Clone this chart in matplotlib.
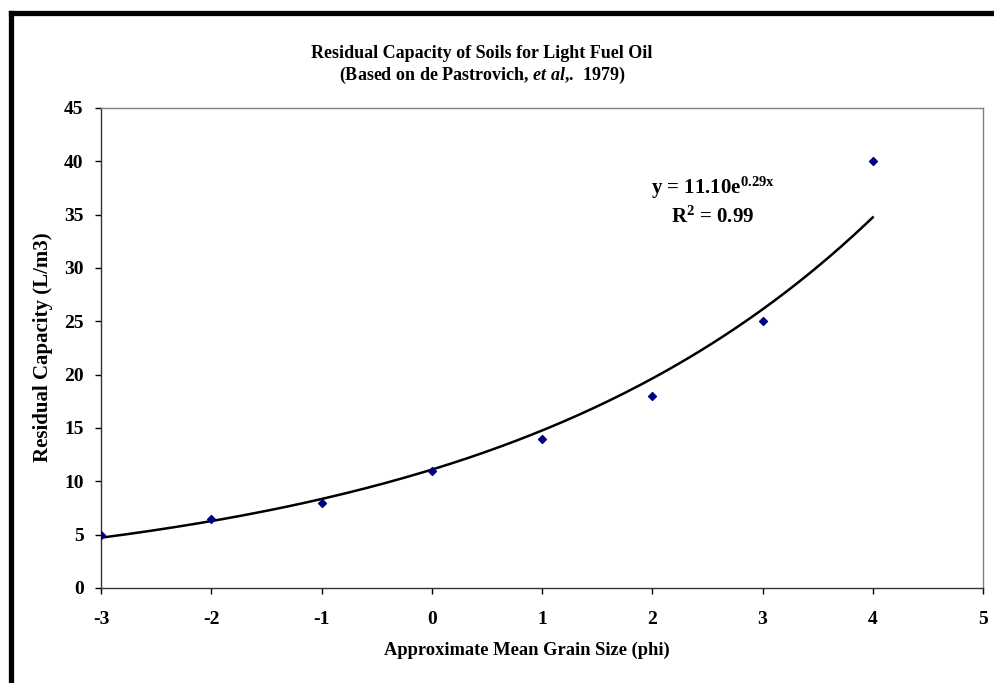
import numpy as np
import matplotlib
matplotlib.use("Agg")
import matplotlib.pyplot as plt
from matplotlib.lines import Line2D

plt.rcParams['font.family'] = ['Liberation Serif', 'DejaVu Serif']
plt.rcParams['font.weight'] = 'bold'
plt.rcParams['axes.unicode_minus'] = False
plt.rcParams['mathtext.fontset'] = 'custom'
plt.rcParams['mathtext.rm'] = 'Liberation Serif:bold'
plt.rcParams['mathtext.it'] = 'Liberation Serif:italic:bold'
plt.rcParams['mathtext.bf'] = 'Liberation Serif:bold'

# grain size (phi) vs residual capacity (L/m3)
phi = np.array([-3, -2, -1, 0, 1, 2, 3, 4])
capacity = np.array([5, 6.5, 8, 11, 14, 18, 25, 40])

x_ticks = [-3, -2, -1, 0, 1, 2, 3, 4, 5]
y_ticks = [0, 5, 10, 15, 20, 25, 30, 35, 40, 45]

# exponential trendline, fitted in log space
b, ln_a = np.polyfit(phi, np.log(capacity), 1)
a = np.exp(ln_a)
pred = ln_a + b * phi
ln_y = np.log(capacity)
r2 = 1 - np.sum((ln_y - pred) ** 2) / np.sum((ln_y - ln_y.mean()) ** 2)

W, H = 994, 683
fig = plt.figure(figsize=(W / 100, H / 100), dpi=100)
ax = fig.add_axes([101 / W, 1 - 588 / H, (983 - 101) / W, (588 - 108) / H])

xs = np.linspace(-3, 4, 200)
ax.plot(xs, a * np.exp(b * xs), color='black', lw=1.8, zorder=2)
ax.scatter(phi, capacity, marker='D', s=16, color='#000080', zorder=3)

ax.set_xlim(-3, 5)
ax.set_ylim(0, 45)
ax.set_xticks(x_ticks)
ax.set_yticks(y_ticks)
ax.tick_params(axis='x', direction='out', length=4.5, width=1, pad=12, labelsize=14)
ax.tick_params(axis='y', direction='out', length=4.5, width=1, pad=8, labelsize=14)
for s in ['left', 'bottom']:
    ax.spines[s].set_color('#333333')
    ax.spines[s].set_linewidth(1)
for s in ['top', 'right']:
    ax.spines[s].set_color('#808080')
    ax.spines[s].set_linewidth(1)

fig.text(713 / W, 1 - 188 / H, 'y = %.2fe$^{\\mathrm{%.2fx}}$' % (a, b),
         ha='center', va='center', fontsize=15)
fig.text(713 / W, 1 - 217 / H, 'R$^{\\mathrm{2}}$ = %.2f' % r2,
         ha='center', va='center', fontsize=15)

fig.text(482 / W, 1 - 53 / H, 'Residual Capacity of Soils for Light Fuel Oil',
         ha='center', va='center', fontsize=13)
fig.text(482 / W, 1 - 75 / H, '(Based on de Pastrovich, $et\\ al$,.  1979)',
         ha='center', va='center', fontsize=13)

fig.text(43 / W, 1 - 347 / H, 'Residual Capacity (L/m3)', rotation=90,
         ha='center', va='center', fontsize=15)
fig.text(527 / W, 1 - 650 / H, 'Approximate Mean Grain Size (phi)',
         ha='center', va='center', fontsize=13.3)

# heavy frame on the left and top edges
fig.add_artist(Line2D([10.5 / W, 10.5 / W], [0, 1 - 12.5 / H], color='black',
                      lw=3.8, transform=fig.transFigure, solid_capstyle='projecting'))
fig.add_artist(Line2D([10.5 / W, 1], [1 - 12.5 / H, 1 - 12.5 / H], color='black',
                      lw=3.8, transform=fig.transFigure, solid_capstyle='projecting'))

fig.savefig('out.png', dpi=100)
